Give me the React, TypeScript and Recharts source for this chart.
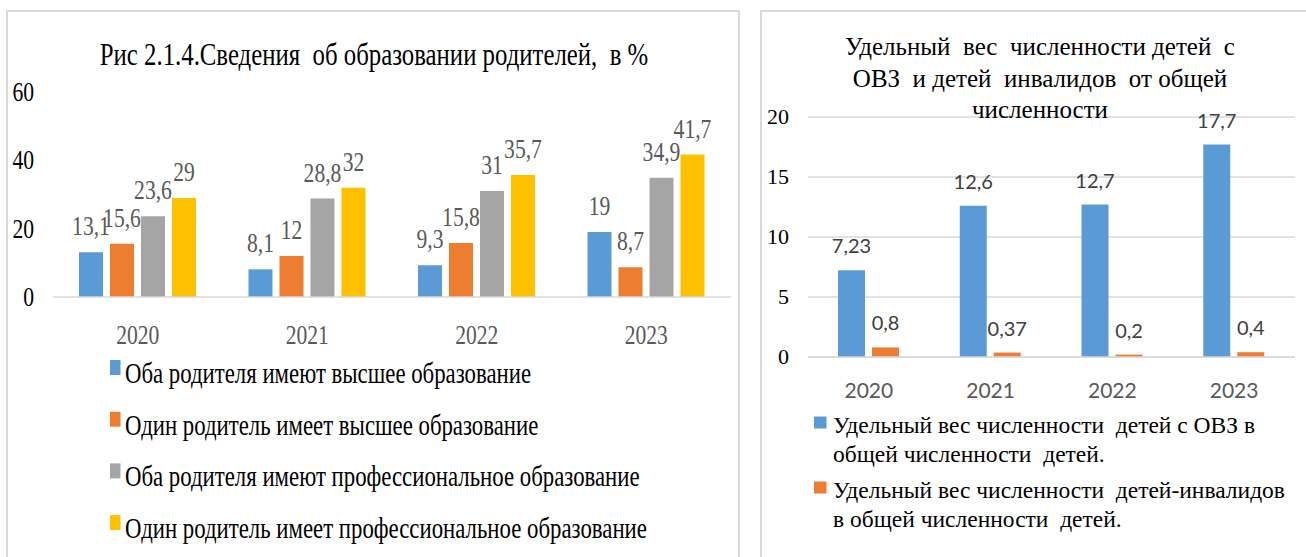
import React from 'react';
import { BarChart, Bar, XAxis, YAxis, CartesianGrid, LabelList } from 'recharts';

// --- data ---
const years = ['2020', '2021', '2022', '2023'];

const bothHigher = [13.1, 8.1, 9.3, 19];
const oneHigher = [15.6, 12, 15.8, 8.7];
const bothProf = [23.6, 28.8, 31, 34.9];
const oneProf = [29, 32, 35.7, 41.7];
const eduTicks = [0, 20, 40, 60];
const eduNames = [
  'Оба родителя имеют высшее образование',
  'Один родитель имеет высшее образование',
  'Оба родителя имеют профессиональное образование',
  'Один родитель имеет профессиональное образование',
];

const ovzShare = [7.23, 12.6, 12.7, 17.7];
const disabledShare = [0.8, 0.37, 0.2, 0.4];
const shareTicks = [0, 5, 10, 15, 20];
const shareNames = [
  ['Удельный вес численности  детей с ОВЗ в', 'общей численности  детей.'],
  ['Удельный вес численности  детей-инвалидов', 'в общей численности  детей.'],
];
const shareTitle = ['Удельный  вес  численности детей  с', 'ОВЗ  и детей  инвалидов  от общей', 'численности'];

const eduTitle = 'Рис 2.1.4.Сведения  об образовании родителей,  в %';

const eduData = years.map((year, i) => ({
  year,
  s0: bothHigher[i],
  s1: oneHigher[i],
  s2: bothProf[i],
  s3: oneProf[i],
}));
const shareData = years.map((year, i) => ({ year, ovz: ovzShare[i], dis: disabledShare[i] }));

const COLORS = ['#5B9BD5', '#ED7D31', '#A5A5A5', '#FFC000'];
const SERIF = "'Liberation Serif', 'Times New Roman', serif";
const SANS = "Lato, 'Open Sans', sans-serif";
const SQ = 0.8; // the left picture is horizontally squeezed

const fmt = (v: number) => String(v).replace('.', ',');

const EduLabel = (props: any) => {
  const vb = props.viewBox || props;
  const x = vb.x + vb.width / 2;
  return (
    <g transform={`translate(${x},${vb.y - 17})`}>
      <text transform={`scale(${SQ},1)`} textAnchor="middle" fontFamily={SERIF} fontSize={27} fill="#595959">
        {fmt(props.value)}
      </text>
    </g>
  );
};

const ShareLabel = (props: any) => {
  const vb = props.viewBox || props;
  return (
    <text x={vb.x + vb.width / 2} y={vb.y - 17} textAnchor="middle" fontFamily={SANS} fontSize={20} fill="#404040">
      {fmt(props.value)}
    </text>
  );
};

const EduXTick = ({ x, y, payload }: any) => (
  <g transform={`translate(${x},${y + 47})`}>
    <text transform={`scale(${SQ},1)`} textAnchor="middle" fontFamily={SERIF} fontSize={27} fill="#595959">
      {payload.value}
    </text>
  </g>
);

const EduYTick = ({ x, y, payload }: any) => (
  <g transform={`translate(${x - 19},${y + 9})`}>
    <text transform={`scale(${SQ},1)`} textAnchor="end" fontFamily={SERIF} fontSize={27} fill="#000">
      {payload.value}
    </text>
  </g>
);

const ShareXTick = ({ x, y, payload }: any) => (
  <text x={x} y={y + 41} textAnchor="middle" fontFamily={SANS} fontSize={21} fill="#595959">
    {payload.value}
  </text>
);

const ShareYTick = ({ x, y, payload }: any) => (
  <text x={x - 19} y={y + 7} textAnchor="end" fontFamily={SERIF} fontSize={22} fill="#000">
    {payload.value}
  </text>
);

export default function App() {
  return (
    <div style={{ position: 'absolute', left: 0, top: 0, width: 1306, height: 557, background: '#fff', overflow: 'hidden' }}>
      {/* frames */}
      <div style={{ position: 'absolute', left: 6, top: 10, width: 730, height: 600, border: '2px solid #d9d9d9' }} />
      <div style={{ position: 'absolute', left: 760, top: 10, width: 600, height: 600, border: '2px solid #d9d9d9' }} />

      {/* left chart */}
      <div style={{ position: 'absolute', left: 0, top: 0 }}>
        <BarChart
          width={740}
          height={357}
          data={eduData}
          margin={{ top: 92, right: 9, bottom: 0, left: 0 }}
          barSize={24}
          barGap={7}
        >
          <XAxis
            dataKey="year"
            height={60}
            tickLine={false}
            tickSize={0}
            tickMargin={0}
            axisLine={{ stroke: '#d9d9d9', strokeWidth: 1.5 }}
            tick={<EduXTick />}
          />
          <YAxis
            width={53}
            domain={[0, 60]}
            ticks={eduTicks}
            tickLine={false}
            tickSize={0}
            tickMargin={0}
            axisLine={false}
            tick={<EduYTick />}
          />
          {['s0', 's1', 's2', 's3'].map((k, i) => (
            <Bar key={k} dataKey={k} name={eduNames[i]} fill={COLORS[i]} isAnimationActive={false}>
              <LabelList dataKey={k} content={<EduLabel />} />
            </Bar>
          ))}
        </BarChart>
      </div>

      {/* left title and legend */}
      <svg width={740} height={557} style={{ position: 'absolute', left: 0, top: 0, pointerEvents: 'none' }}>
        <g transform="translate(374,65)">
          <text transform={`scale(${SQ},1)`} textAnchor="middle" fontFamily={SERIF} fontSize={31} fill="#000" style={{ whiteSpace: 'pre' }}>
            {eduTitle}
          </text>
        </g>
        {eduNames.map((n, i) => (
          <g key={n}>
            <rect x={110} y={360 + i * 51.7} width={10.5} height={15} fill={COLORS[i]} />
            <g transform={`translate(125,${383 + i * 51.7})`}>
              <text transform={`scale(${SQ},1)`} fontFamily={SERIF} fontSize={28.5} fill="#000" style={{ whiteSpace: 'pre' }}>
                {n}
              </text>
            </g>
          </g>
        ))}
      </svg>

      {/* right chart */}
      <div style={{ position: 'absolute', left: 760, top: 0 }}>
        <BarChart
          width={546}
          height={410}
          data={shareData}
          margin={{ top: 117, right: 11, bottom: 0, left: 0 }}
          barSize={27}
          barGap={7}
        >
          <CartesianGrid vertical={false} stroke="#d9d9d9" strokeWidth={1.5} />
          <XAxis
            dataKey="year"
            height={53}
            tickLine={false}
            tickSize={0}
            tickMargin={0}
            axisLine={{ stroke: '#d9d9d9', strokeWidth: 1.5 }}
            tick={<ShareXTick />}
          />
          <YAxis
            width={48}
            domain={[0, 20]}
            ticks={shareTicks}
            tickLine={false}
            tickSize={0}
            tickMargin={0}
            axisLine={false}
            tick={<ShareYTick />}
          />
          <Bar dataKey="ovz" fill={COLORS[0]} isAnimationActive={false}>
            <LabelList dataKey="ovz" content={<ShareLabel />} />
          </Bar>
          <Bar dataKey="dis" fill={COLORS[1]} isAnimationActive={false}>
            <LabelList dataKey="dis" content={<ShareLabel />} />
          </Bar>
        </BarChart>
      </div>

      {/* right title and legend */}
      <svg width={546} height={557} style={{ position: 'absolute', left: 760, top: 0, pointerEvents: 'none' }}>
        {shareTitle.map((line, i) => (
          <text key={line} x={280} y={55 + i * 31.5} textAnchor="middle" fontFamily={SERIF} fontSize={25} fill="#000" style={{ whiteSpace: 'pre' }}>
            {line}
          </text>
        ))}
        {shareNames.map((lines, i) => (
          <g key={i}>
            <rect x={54} y={416.5 + i * 65} width={12.5} height={12} fill={COLORS[i]} />
            {lines.map((l, j) => (
              <text key={l} x={73} y={433 + i * 65 + j * 29} fontFamily={SERIF} fontSize={23.5} fill="#000" style={{ whiteSpace: 'pre' }}>
                {l}
              </text>
            ))}
          </g>
        ))}
      </svg>
    </div>
  );
}
